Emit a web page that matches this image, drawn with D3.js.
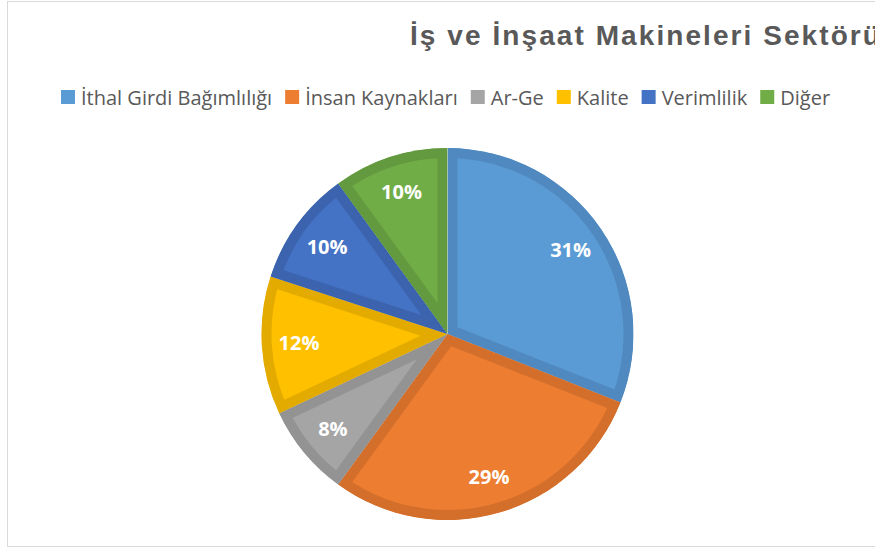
<!DOCTYPE html>
<html>
<head>
<meta charset="utf-8">
<script src="https://cdn.jsdelivr.net/npm/d3@7"></script>
<style>
  body { margin: 0; background: #fff; }
  svg { display: block; }
</style>
</head>
<body>
<div id="chart"></div>
<script>
// chart data
var titleText = "İş ve İnşaat Makineleri Sektörü";
var categories = ["İthal Girdi Bağımlılığı", "İnsan Kaynakları", "Ar-Ge", "Kalite", "Verimlilik", "Diğer"];
var shares = [31, 29, 8, 12, 10, 10];
var fills = ["#5B9BD5", "#ED7D31", "#A5A5A5", "#FFC000", "#4472C4", "#70AD47"];
var edges = ["#4F89BF", "#D36F2B", "#939393", "#E3AB00", "#3C64AE", "#63993F"];

var width = 875, height = 548;

var svg = d3.select("#chart")
  .append("svg")
  .attr("width", width)
  .attr("height", height);

// outer frame (right side runs off the page)
svg.append("rect")
  .attr("x", 7.5)
  .attr("y", 1.5)
  .attr("width", 900)
  .attr("height", 545)
  .attr("fill", "#fff")
  .attr("stroke", "#D9D9D9")
  .attr("stroke-width", 1);

// title, cut at the right edge like the original
var title = svg.append("text")
  .attr("x", 410)
  .attr("y", 45)
  .attr("fill", "#595959")
  .style("font-family", "Liberation Sans, Arial, sans-serif")
  .style("font-weight", "bold")
  .style("font-size", "28px")
  .text(titleText);
var tlen = title.node().getComputedTextLength();
title.style("letter-spacing", Math.max(0, (472 - tlen) / titleText.length) + "px");

// legend
var legend = svg.append("g").attr("class", "legend");
var lx = 61;
categories.forEach(function(name, i) {
  var item = legend.append("g").attr("transform", "translate(" + lx + ",0)");
  item.append("rect")
    .attr("x", 0)
    .attr("y", 90)
    .attr("width", 14)
    .attr("height", 14)
    .attr("fill", fills[i]);
  var t = item.append("text")
    .attr("x", 20)
    .attr("y", 105)
    .attr("fill", "#595959")
    .style("font-family", "Open Sans, sans-serif")
    .style("font-size", "20px")
    .text(name);
  lx += 20 + t.node().getComputedTextLength() + 13;
});

// pie
var cx = 447.5, cy = 334, R = 186;

var pie = d3.pie().sort(null).value(function(d) { return d; });
var arcs = pie(shares);
var arc = d3.arc().innerRadius(0).outerRadius(R);
var labelArc = d3.arc().innerRadius(R * 0.8).outerRadius(R * 0.8);

var g = svg.append("g").attr("transform", "translate(" + cx + "," + cy + ")");
var defs = svg.append("defs");

arcs.forEach(function(d, i) {
  defs.append("clipPath")
    .attr("id", "clip" + i)
    .append("path")
    .attr("d", arc(d));
});

g.selectAll("path.slice")
  .data(arcs)
  .enter()
  .append("path")
  .attr("class", "slice")
  .attr("d", arc)
  .attr("fill", function(d, i) { return fills[i]; })
  .attr("stroke", function(d, i) { return edges[i]; })
  .attr("stroke-width", 20)
  .attr("stroke-linejoin", "miter")
  .attr("clip-path", function(d, i) { return "url(#clip" + i + ")"; });

g.selectAll("text.lbl")
  .data(arcs)
  .enter()
  .append("text")
  .attr("class", "lbl")
  .attr("transform", function(d) { return "translate(" + labelArc.centroid(d) + ")"; })
  .attr("text-anchor", "middle")
  .attr("dy", "0.35em")
  .attr("fill", "#fff")
  .style("font-family", "Open Sans, sans-serif")
  .style("font-weight", "bold")
  .style("font-size", "20px")
  .text(function(d) { return d.data + "%"; });
</script>
</body>
</html>
